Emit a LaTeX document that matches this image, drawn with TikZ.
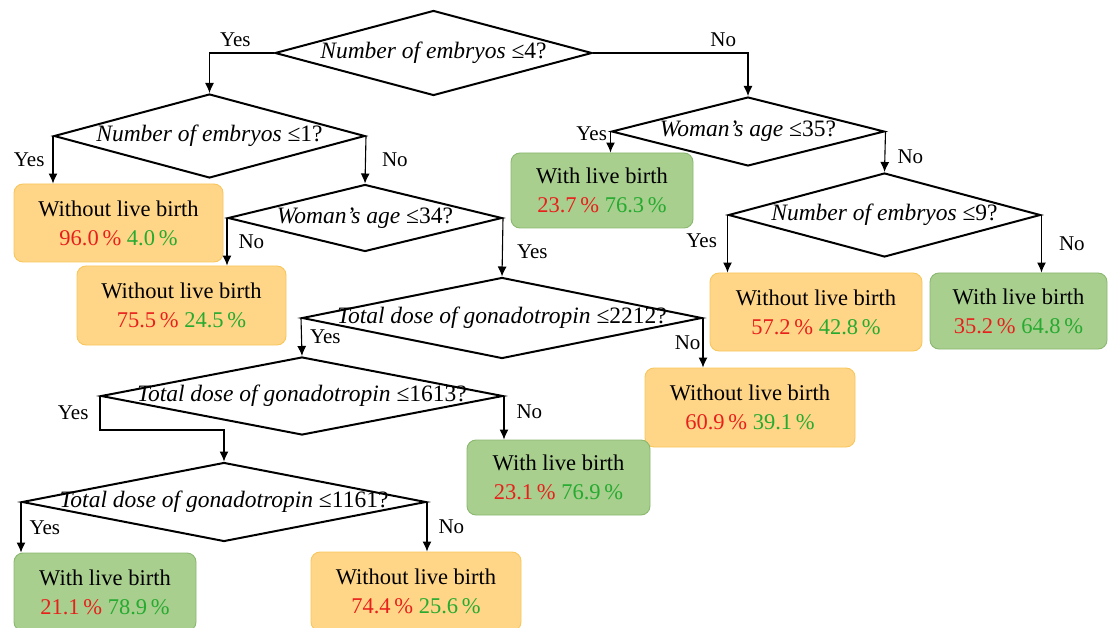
\documentclass[tikz,border=0pt]{standalone}
\usepackage{fontspec}
\setmainfont{Liberation Serif}
\usetikzlibrary{arrows.meta,shapes.geometric}
\usepackage{xcolor}

\definecolor{boxorange}{RGB}{255,214,135}
\definecolor{lineorange}{RGB}{248,198,92}
\definecolor{boxgreen}{RGB}{168,207,142}
\definecolor{linegreen}{RGB}{138,184,112}
\definecolor{pctred}{RGB}{232,32,28}
\definecolor{pctgreen}{RGB}{38,170,48}

\newcommand{\query}[2]{\makebox[0pt]{\itshape #1 \upshape ≤#2?}}
\newcommand{\rates}[2]{{\color{pctred}#1\,\%} {\color{pctgreen}#2\,\%}}

\begin{document}
\begin{tikzpicture}[x=1pt,y=-1pt,
    decision/.style={draw, shape=diamond, line width=2pt, inner sep=0pt, font=\fontsize{23.5}{28}\selectfont},
    leaf/.style={draw, rounded corners=9pt, line width=0.9pt, inner sep=0pt, align=center, font=\fontsize{22.5}{29}\selectfont},
    nolive/.style={leaf, fill=boxorange, draw=lineorange},
    live/.style={leaf, fill=boxgreen, draw=linegreen},
    arr/.style={-{Latex[length=10pt,width=9pt]}, line width=1.1pt},
    ans/.style={font=\fontsize{21}{25}\selectfont, inner sep=2pt}]
                \useasboundingbox (0,0) rectangle (1108,628);
                \clip (0,0) rectangle (1108,628);

                % questions
                \node[decision, minimum width=317pt, minimum height=85pt] (q1) at (433.5,53) {\query{Number of embryos}{4}};
                \node[decision, minimum width=311pt, minimum height=84pt] (q2) at (209.5,136) {\query{Number of embryos}{1}};
                \node[decision, minimum width=273pt, minimum height=69pt] (q3) at (748,131.5) {\query{Woman’s age}{35}};
                \node[decision, minimum width=274pt, minimum height=67pt] (q4) at (365,218) {\query{Woman’s age}{34}};
                \node[decision, minimum width=400pt, minimum height=81pt] (q5) at (502,318) {\query{Total dose of gonadotropin}{2212}};
                \node[decision, minimum width=402pt, minimum height=78pt] (q6) at (302,396) {\query{Total dose of gonadotropin}{1613}};
                \node[decision, minimum width=404pt, minimum height=79pt] (q7) at (224,502) {\query{Total dose of gonadotropin}{1161}};
                \node[decision, minimum width=312pt, minimum height=84pt] (q8) at (884.5,215) {\query{Number of embryos}{9}};

                % outcomes
                \node[nolive, minimum width=209pt, minimum height=78pt] (b1) at (118.5,223) {Without live birth\\\rates{96.0}{4.0}};
                \node[nolive, minimum width=209pt, minimum height=79pt] (b2) at (181.5,305.5) {Without live birth\\\rates{75.5}{24.5}};
                \node[live, minimum width=182pt, minimum height=75pt] (b3) at (602,190.5) {With live birth\\\rates{23.7}{76.3}};
                \node[nolive, minimum width=212pt, minimum height=78pt] (b4) at (816,312) {Without live birth\\\rates{57.2}{42.8}};
                \node[live, minimum width=177pt, minimum height=76pt] (b9) at (1018.5,311) {With live birth\\\rates{35.2}{64.8}};
                \node[nolive, minimum width=210pt, minimum height=79pt] (b5) at (750,407.5) {Without live birth\\\rates{60.9}{39.1}};
                \node[live, minimum width=183pt, minimum height=75pt] (b6) at (558.5,477.5) {With live birth\\\rates{23.1}{76.9}};
                \node[live, minimum width=182pt, minimum height=78pt] (b7) at (105,592) {With live birth\\\rates{21.1}{78.9}};
                \node[nolive, minimum width=210pt, minimum height=79pt] (b8) at (416,591.5) {Without live birth\\\rates{74.4}{25.6}};

                % branches
                \draw[arr] (q1.west) -| node[ans, above=4pt, pos=0.3] {Yes} (q2.north);
                \draw[arr] (q1.east) -| node[ans, above=4pt, pos=0.42] {No} (q3.north);

                \draw[arr] (q2.west) -- node[ans, left=6pt] {Yes} (q2.west |- b1.north);
                \draw[arr] (q2.east) -- node[ans, right=14pt] {No} (q4.north);

                \draw[arr] (q4.west) -- node[ans, right=9pt] {No} (q4.west |- b2.north);
                \draw[arr] (q4.east) -- node[ans, right=12pt, yshift=-4pt] {Yes} (q5.north);

                \draw[arr] (q5.west) -- node[ans, right=6pt] {Yes} (q6.north);
                \draw[arr] (q5.east) -- node[ans, left=0pt] {No} (q5.east |- b5.north);

                \draw[arr] (q6.west) -- node[ans, left=9pt] {Yes} ++(0,34) -| (q7.north);
                \draw[arr] (q6.east) -- node[ans, right=10pt, yshift=6pt] {No} (q6.east |- b6.north);

                \draw[arr] (q7.west) -- node[ans, right=6pt] {Yes} (q7.west |- b7.north);
                \draw[arr] (q7.east) -- node[ans, right=9pt] {No} (q7.east |- b8.north);

                \draw[arr] (q3.west) -- node[ans, left=1pt, pos=0, yshift=-2pt] {Yes} (q3.west |- b3.north);
                \draw[arr] (q3.east) -- node[ans, right=10pt, yshift=-5pt] {No} (q8.north);

                \draw[arr] (q8.west) -- node[ans, left=8pt, yshift=3pt] {Yes} (q8.west |- b4.north);
                \draw[arr] (q8.east) -- node[ans, right=15pt] {No} (q8.east |- b9.north);

            \end{tikzpicture}
\end{document}
